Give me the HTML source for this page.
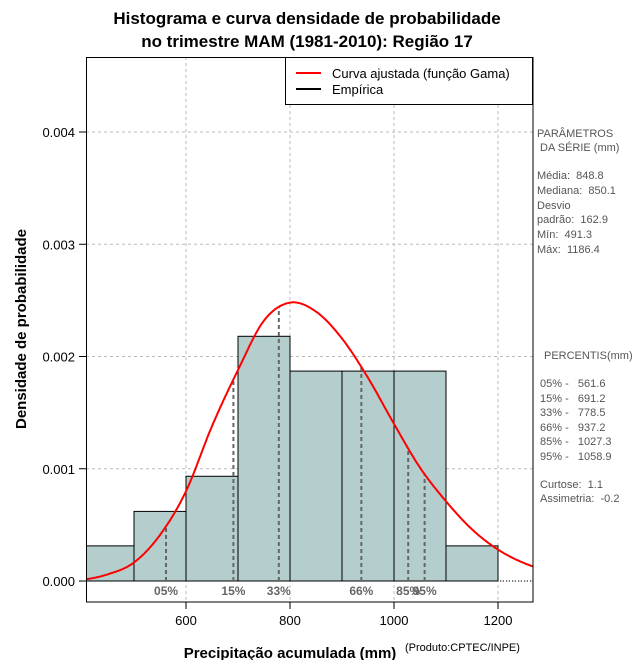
<!DOCTYPE html>
<html><head><meta charset="utf-8"><style>
body{margin:0;background:#fff}
svg text{font-family:"Liberation Sans",sans-serif;white-space:pre}
</style></head><body>
<svg id="c" width="640" height="660" viewBox="0 0 640 660" xmlns="http://www.w3.org/2000/svg">
<defs><clipPath id="pc"><rect x="86.5" y="57.5" width="446.5" height="544.5"/></clipPath></defs>
<rect width="640" height="660" fill="#fff"/>
<text x="307" y="24" text-anchor="middle" font-size="17" font-weight="bold">Histograma e curva densidade de probabilidade</text>
<text x="307" y="47" text-anchor="middle" font-size="17" font-weight="bold">no trimestre MAM (1981-2010): Região 17</text>
<g id="grid"></g>
<g id="bars" clip-path="url(#pc)"></g>
<g id="pct"></g>
<path id="curve" fill="none" stroke="#f00" stroke-width="2" clip-path="url(#pc)"/>
<g id="axes"></g>
<rect x="86.5" y="57.5" width="446.5" height="544.5" fill="none" stroke="#000"/>
<g>
<rect x="285.5" y="57.5" width="247" height="47" fill="#fff" stroke="#000"/>
<line x1="296" y1="73" x2="321" y2="73" stroke="#f00" stroke-width="2"/>
<text x="332" y="78" font-size="13" fill="#000">Curva ajustada (função Gama)</text>
<line x1="296" y1="89" x2="321" y2="89" stroke="#000" stroke-width="2"/>
<text x="332" y="94" font-size="13" fill="#000">Empírica</text>
</g>
<text transform="translate(26,329) rotate(-90)" text-anchor="middle" font-size="15" font-weight="bold">Densidade de probabilidade</text>
<text x="290" y="658" text-anchor="middle" font-size="15" font-weight="bold">Precipitação acumulada (mm)</text>
<text x="405" y="651" font-size="11">(Produto:CPTEC/INPE)</text>
<g font-size="11" fill="#555">
<text x="537" y="137">PARÂMETROS</text>
<text x="540" y="151">DA SÉRIE (mm)</text>
<text x="537" y="179">Média:  848.8</text>
<text x="537" y="194">Mediana:  850.1</text>
<text x="537" y="209">Desvio</text>
<text x="537" y="223">padrão:  162.9</text>
<text x="537" y="238">Mín:  491.3</text>
<text x="537" y="253">Máx:  1186.4</text>
<text x="544" y="359">PERCENTIS(mm)</text>
<text x="540" y="387">05% -   561.6</text>
<text x="540" y="402">15% -   691.2</text>
<text x="540" y="416">33% -   778.5</text>
<text x="540" y="431">66% -   937.2</text>
<text x="540" y="445">85% -   1027.3</text>
<text x="540" y="460">95% -   1058.9</text>
<text x="540" y="488">Curtose:  1.1</text>
<text x="540" y="502">Assimetria:  -0.2</text>
</g>
</svg>
<script>
const binStarts=[400,500,600,700,800,900,1000,1100];
const binDens=[0.000313,0.00062,0.000933,0.00218,0.00187,0.00187,0.00187,0.000313];
const curveX=[400,450,500,550,600,650,700,750,800,850,900,950,1000,1050,1100,1150,1200,1250,1300];
const curveY=[0.000012,0.00006,0.000165,0.00041,0.0008,0.00138,0.00188,0.00232,0.00248,0.0024,0.00216,0.00181,0.0014,0.00101,0.00071,0.00046,0.00028,0.00016,0.00009];
const pctVals=[561.6,691.2,778.5,937.2,1027.3,1058.9];
const pctLabels=["05%","15%","33%","66%","85%","95%"];
const xTicks=[600,800,1000,1200];
const yTicks=[0,0.001,0.002,0.003,0.004];
const yTickLabels=["0.000","0.001","0.002","0.003","0.004"];
const binW=100;

const NS="http://www.w3.org/2000/svg";
const X=v=>186+(v-600)*0.52;
const Y=v=>581-v*112.25/0.001;
function mk(tag,attrs,parent){const e=document.createElementNS(NS,tag);for(const k in attrs)e.setAttribute(k,attrs[k]);document.getElementById(parent).appendChild(e);return e;}
xTicks.forEach(t=>{const e=mk('line',{x1:X(t),x2:X(t),y1:57,y2:602,stroke:'#bbb','stroke-dasharray':'3,3'},'grid');

});
yTicks.forEach(t=>{const e=mk('line',{x1:86,x2:533,y1:Y(t),y2:Y(t),stroke:'#bbb','stroke-dasharray':'3,3'},'grid');

});
binStarts.forEach((s,i)=>{const e=mk('rect',{x:X(s),y:Y(binDens[i]),width:X(s+binW)-X(s),height:Y(0)-Y(binDens[i]),fill:'#b4cdcd',stroke:'#000'},'bars');

});
const z=mk('line',{x1:86,x2:533,y1:Y(0),y2:Y(0),stroke:'#000','stroke-dasharray':'1,2'},'bars');


function interp(v){for(let i=0;i<curveX.length-1;i++){if(v>=curveX[i]&&v<=curveX[i+1]){
 const p0=curveY[Math.max(i-1,0)],p1=curveY[i],p2=curveY[i+1],p3=curveY[Math.min(i+2,curveY.length-1)];
 const t=(v-curveX[i])/(curveX[i+1]-curveX[i]);
 return 0.5*((2*p1)+(-p0+p2)*t+(2*p0-5*p1+4*p2-p3)*t*t+(-p0+3*p1-3*p2+p3)*t*t*t);}}return 0;}
let d="";for(let v=curveX[0];v<=curveX[curveX.length-1];v+=2){d+=(d?"L":"M")+X(v).toFixed(1)+","+Y(interp(v)).toFixed(1);}
document.getElementById('curve').setAttribute('d',d);
pctVals.forEach((p,i)=>{const e=mk('line',{x1:X(p),x2:X(p),y1:Y(0),y2:Y(interp(p)),stroke:'#666','stroke-width':2,'stroke-dasharray':'4,3'},'pct');


const t=mk('text',{x:X(p),y:595,'text-anchor':'middle','font-size':12,'font-weight':'bold',fill:'#666','font-family':'Liberation Serif, serif'},'pct');t.textContent=pctLabels[i];

});
xTicks.forEach(t=>{const e=mk('line',{x1:X(t),x2:X(t),y1:602,y2:609,stroke:'#000'},'axes');


const l=mk('text',{x:X(t),y:625,'text-anchor':'middle','font-size':13},'axes');l.textContent=t;

});
yTicks.forEach((t,i)=>{const e=mk('line',{x1:79,x2:86,y1:Y(t),y2:Y(t),stroke:'#000'},'axes');


const l=mk('text',{x:75,y:Y(t)+5,'text-anchor':'end','font-size':13},'axes');l.textContent=yTickLabels[i];

});
</script>
</body></html>
